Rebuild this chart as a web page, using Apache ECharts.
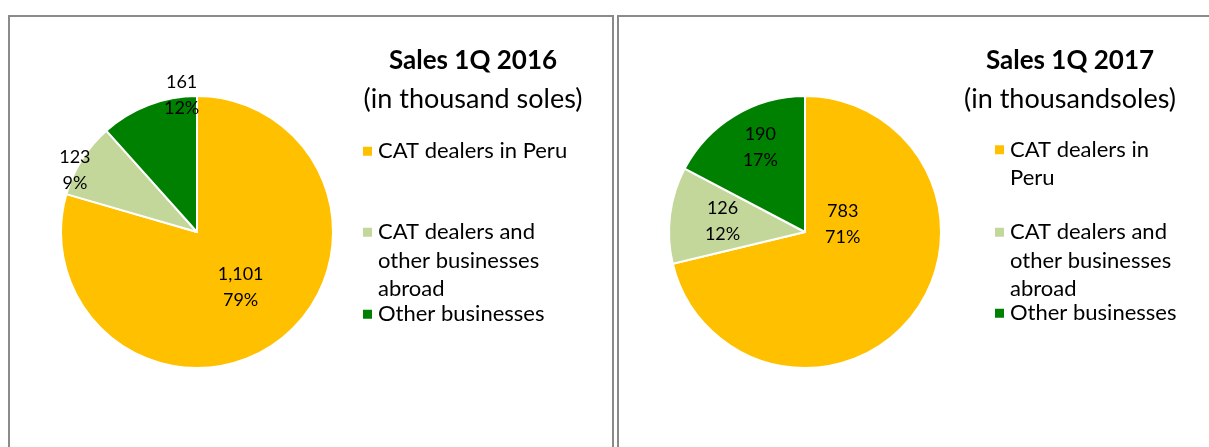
<!DOCTYPE html>
<html>
<head>
<meta charset="utf-8">
<script src="https://cdn.jsdelivr.net/npm/echarts@6/dist/echarts.min.js"></script>
<style>
  html, body { margin: 0; padding: 0; background: #fff; }
  #chart { width: 1209px; height: 447px; }
</style>
</head>
<body>
<div id="chart"></div>
<script>
// categories
const categories = ['CAT dealers in Peru', 'CAT dealers and other businesses abroad', 'Other businesses'];
// values (thousand soles)
const sales2016 = [1101, 123, 161];
const sales2017 = [783, 126, 190];
// shares as printed on the slices
const share2016 = [79, 9, 12];
const share2017 = [71, 12, 17];
// legend text as it wraps in each panel
const legendText2016 = ['CAT dealers in Peru', '\n\nCAT dealers and\nother businesses\nabroad', 'Other businesses'];
const legendText2017 = ['\nCAT dealers in\nPeru', '\n\nCAT dealers and\nother businesses\nabroad', 'Other businesses'];

const colors = ['#FFC000', '#C4D79B', '#008000'];
const FONT = 'Lato';

// label nudges to mimic Excel "best fit" placement
const labelShift2016 = [[1, -2], [-62, -24], [10, -70]];
const labelShift2017 = [[-18, -52], [-12, -2], [-8, -24]];

const chart = echarts.init(document.getElementById('chart'));

const toData = (vals) => vals.map((v, i) => ({ name: categories[i], value: v }));

const pieSeries = (vals, shares, center, shifts) => ({
    type: 'pie',
    center: center,
    radius: 136,
    startAngle: 90,
    clockwise: true,
    silent: true,
    animation: false,
    emphasis: { disabled: true },
    itemStyle: { borderColor: '#fff', borderWidth: 2 },
    label: {
        show: true,
        position: 'inside',
        fontFamily: FONT,
        fontSize: 18,
        lineHeight: 26,
        color: '#000',
        formatter: (p) => p.value.toLocaleString('en-US') + '\n' + shares[p.dataIndex] + '%'
    },
    labelLine: { show: false },
    labelLayout: (p) => ({ dx: shifts[p.dataIndex][0], dy: shifts[p.dataIndex][1] }),
    data: toData(vals)
});

const legendItem = (i, left, top, texts) => ({
    left: left,
    top: top,
    padding: 0,
    orient: 'vertical',
    selectedMode: false,
    icon: 'rect',
    itemWidth: 11,
    itemHeight: 11,
    data: [categories[i]],
    formatter: () => texts[i],
    textStyle: { fontFamily: FONT, fontSize: 22, lineHeight: 28.5, color: '#000' }
});

const titleItem = (text, sub, x) => ({
    text: text,
    subtext: sub,
    left: x,
    top: 46,
    padding: 0,
    textAlign: 'center',
    itemGap: 8,
    textStyle: { fontFamily: FONT, fontSize: 26, fontWeight: 'bold', color: '#000', lineHeight: 30 },
    subtextStyle: { fontFamily: FONT, fontSize: 27, color: '#000', lineHeight: 30 }
});

chart.setOption({
    color: colors,
    animation: false,
    title: [
        titleItem('Sales 1Q 2016', '(in thousand soles)', 473),
        titleItem('Sales 1Q 2017', '(in thousandsoles)', 1070)
    ],
    legend: [
        legendItem(0, 361, 137, legendText2016),
        legendItem(1, 361, 161, legendText2016),
        legendItem(2, 361, 300, legendText2016),
        legendItem(0, 993, 107, legendText2017),
        legendItem(1, 993, 161, legendText2017),
        legendItem(2, 993, 299, legendText2017)
    ],
    graphic: [
        { type: 'rect', shape: { x: 9, y: 16, width: 604, height: 600 }, style: { fill: 'none', stroke: '#8a8a8a', lineWidth: 2 }, silent: true, z: -1 },
        { type: 'rect', shape: { x: 618, y: 16, width: 700, height: 600 }, style: { fill: 'none', stroke: '#8a8a8a', lineWidth: 2 }, silent: true, z: -1 }
    ],
    series: [
        pieSeries(sales2016, share2016, [197, 232], labelShift2016),
        pieSeries(sales2017, share2017, [805, 232], labelShift2017)
    ]
});
</script>
</body>
</html>
